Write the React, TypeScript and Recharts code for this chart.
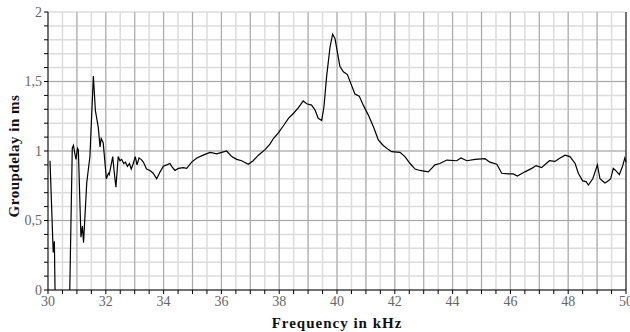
import { LineChart, Line, XAxis, YAxis, CartesianGrid } from "recharts";

const freqKHz = [
  30.07, 30.18, 30.22, 30.27, 30.5, 30.72, 30.84, 30.88, 30.93, 30.97, 31.02, 31.05,
  31.14, 31.19, 31.23, 31.34, 31.45, 31.57, 31.64, 31.74, 31.8, 31.84, 31.91,
  32.02, 32.09, 32.12, 32.24, 32.28, 32.35, 32.43, 32.49, 32.55, 32.62, 32.68,
  32.75, 32.82, 32.88, 32.95, 33.02, 33.08, 33.15, 33.22, 33.3, 33.41, 33.53,
  33.64, 33.76, 33.88, 33.99, 34.11, 34.22, 34.28, 34.39, 34.51, 34.68, 34.8,
  34.97, 35.15, 35.37, 35.61, 35.84, 36.01, 36.18, 36.36, 36.53, 36.7, 36.93,
  37.1, 37.28, 37.51, 37.68, 37.8, 37.97, 38.14, 38.32, 38.49, 38.66, 38.83,
  38.95, 39.12, 39.24, 39.35, 39.47, 39.55, 39.64, 39.76, 39.85, 39.93, 40.01,
  40.1, 40.22, 40.36, 40.47, 40.62, 40.77, 40.91, 41.08, 41.26, 41.43, 41.6,
  41.78, 41.89, 42.18, 42.35, 42.53, 42.7, 42.87, 43.16, 43.39, 43.56, 43.8,
  44.14, 44.29, 44.49, 44.78, 45.12, 45.29, 45.53, 45.7, 45.93, 46.1, 46.24,
  46.5, 46.74, 46.89, 47.08, 47.35, 47.54, 47.72, 47.89, 48.06, 48.24, 48.35,
  48.5, 48.62, 48.7, 48.85, 49.01, 49.1, 49.27, 49.39, 49.47, 49.56, 49.64,
  49.77, 49.88, 49.96, 50.0,
];

const groupDelay = [
  0.93, 0.27, 0.35, -0.4, -0.6, -0.4, 1.02, 1.04, 0.98, 0.94, 1.02, 1.01,
  0.38, 0.46, 0.34, 0.77, 0.96, 1.54, 1.29, 1.17, 1.03, 1.09, 1.06,
  0.8, 0.84, 0.83, 0.96, 0.87, 0.74, 0.96, 0.93, 0.94, 0.91, 0.92,
  0.89, 0.91, 0.87, 0.91, 0.96, 0.9, 0.95, 0.94, 0.92, 0.87, 0.86,
  0.84, 0.8, 0.85, 0.89, 0.9, 0.91, 0.89, 0.86, 0.875, 0.88, 0.875,
  0.92, 0.95, 0.97, 0.99, 0.98, 0.99, 1.0, 0.96, 0.94, 0.93, 0.905,
  0.93, 0.97, 1.01, 1.05, 1.09, 1.13, 1.18, 1.235, 1.27, 1.31, 1.36,
  1.34, 1.33, 1.295, 1.235, 1.22, 1.32, 1.535, 1.75, 1.84, 1.81, 1.715,
  1.61, 1.57, 1.55, 1.49, 1.41, 1.395, 1.33, 1.26, 1.175, 1.08, 1.04,
  1.01, 0.995, 0.99, 0.96, 0.91, 0.87, 0.86, 0.85, 0.9, 0.91, 0.935,
  0.93, 0.95, 0.93, 0.94, 0.945, 0.92, 0.905, 0.84, 0.835, 0.835, 0.82,
  0.85, 0.875, 0.895, 0.88, 0.93, 0.925, 0.95, 0.97, 0.96, 0.91, 0.84,
  0.785, 0.78, 0.755, 0.8, 0.9, 0.8, 0.77, 0.785, 0.8, 0.875, 0.86,
  0.83, 0.89, 0.95, 0.92,
];

// tick positions: every 0.5 kHz, every 0.1 ms
const xTicks = [
  30, 30.5, 31, 31.5, 32, 32.5, 33, 33.5, 34, 34.5, 35, 35.5, 36, 36.5, 37, 37.5,
  38, 38.5, 39, 39.5, 40, 40.5, 41, 41.5, 42, 42.5, 43, 43.5, 44, 44.5, 45, 45.5,
  46, 46.5, 47, 47.5, 48, 48.5, 49, 49.5, 50,
];
const xLabelled = [30, 32, 34, 36, 38, 40, 42, 44, 46, 48, 50];
const xMajor = [31, 32, 33, 34, 35, 36, 37, 38, 39, 40, 41, 42, 43, 44, 45, 46, 47, 48, 49];
const yTicks = [0, 0.1, 0.2, 0.3, 0.4, 0.5, 0.6, 0.7, 0.8, 0.9, 1, 1.1, 1.2, 1.3, 1.4, 1.5, 1.6, 1.7, 1.8, 1.9, 2];
const yLabelled = [0, 0.5, 1, 1.5, 2];
const yMajor = [0.5, 1, 1.5];

const data = freqKHz.map((f, i) => ({ f, gd: groupDelay[i] }));

const FONT = '"Liberation Serif", "DejaVu Serif", serif';
const tickStyle = { fontFamily: FONT, fontSize: 14, fill: "#666" };

export default function App() {
  return (
    <div style={{ position: "absolute", left: 0, top: 0, width: 630, height: 332 }}>
      <LineChart
        width={630}
        height={332}
        data={data}
        margin={{ top: 12, right: 0, bottom: 0, left: 0 }}
      >
        <CartesianGrid stroke="#dcdcdc" strokeWidth={1.5} verticalValues={xTicks} horizontalValues={yTicks} />
        <CartesianGrid stroke="#a8a8a8" strokeWidth={1} verticalValues={xMajor} horizontalValues={yMajor} />
        <XAxis
          dataKey="f"
          type="number"
          domain={[30, 50]}
          ticks={xTicks}
          interval={0}
          tickFormatter={(v: number) => (xLabelled.includes(v) ? String(v) : "")}
          tick={tickStyle}
          tickSize={4}
          stroke="#000"
          height={42}
          label={{
            value: "Frequency in kHz",
            position: "insideBottom",
            offset: 4,
            style: { fontFamily: FONT, fontSize: 15, fontWeight: "bold", fill: "#111", letterSpacing: 1 },
          }}
        />
        <XAxis
          xAxisId="top"
          orientation="top"
          dataKey="f"
          type="number"
          domain={[30, 50]}
          ticks={xTicks}
          interval={0}
          tick={false}
          tickSize={4}
          stroke="#333"
          height={0}
        />
        <YAxis
          type="number"
          domain={[0, 2]}
          allowDataOverflow
          ticks={yTicks}
          interval={0}
          tickFormatter={(v: number) => (yLabelled.includes(v) ? String(v).replace(".", ",") : "")}
          tick={tickStyle}
          tickSize={4}
          stroke="#000"
          width={48}
          label={{
            value: "Groupdelay in ms",
            angle: -90,
            position: "insideLeft",
            offset: 14,
            dy: 5,
            style: { fontFamily: FONT, fontSize: 15, fontWeight: "bold", fill: "#111", textAnchor: "middle", letterSpacing: 0.5 },
          }}
        />
        <YAxis
          yAxisId="right"
          orientation="right"
          type="number"
          domain={[0, 2]}
          ticks={yTicks}
          interval={0}
          tick={false}
          tickSize={4}
          stroke="#000"
          width={4}
        />
        <Line
          dataKey="gd"
          type="linear"
          stroke="#000"
          strokeWidth={1.2}
          dot={false}
          isAnimationActive={false}
        />
      </LineChart>
    </div>
  );
}
